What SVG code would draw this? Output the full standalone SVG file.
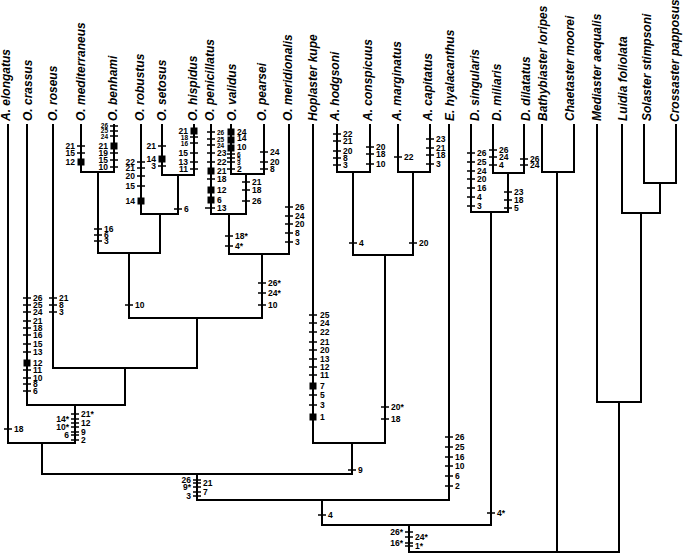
<svg xmlns="http://www.w3.org/2000/svg" width="685" height="554" viewBox="0 0 685 554">
<style>
.br{fill:none;stroke:#000;stroke-width:2;stroke-linecap:square}
.tk{fill:none;stroke:#000;stroke-width:1.5}
.sq{fill:#000}
.sp{font-family:"Liberation Sans",Arial,sans-serif;font-size:12px;font-weight:bold;font-style:italic;fill:#000}
.r,.l{font-family:"Liberation Sans",Arial,sans-serif;font-size:8.5px;font-weight:bold;fill:#000}
.l{text-anchor:end}
.s{font-size:6.5px}
</style>
<rect width="685" height="554" fill="#fff"/>
<g id="connectors">
<path class="br" d="M8 125V443 M27 125V405 M53 125V368 M81 125V172 M114 125V172 M141 125V214 M162 125V175 M194 125V175 M211 125V214 M231 125V174 M264 125V174 M289 125V254 M313 125V443 M337 125V172 M370 125V172 M398 125V172 M430 125V172 M449 125V500 M471 125V212 M493 125V173 M524 125V173 M542 125V172 M574 125V172 M597 125V402 M622 125V213 M644 125V183 M676 125V183"/>
<path class="br" d="M81 172H114 M98 172V253 M162 175H194 M178 175V214 M141 214H178 M160 214V253 M98 253H160 M129 253V318 M231 174H264 M246 174V214 M211 214H246 M229 214V254 M229 254H289 M262 254V318 M129 318H262 M197 318V368 M53 368H197 M125 368V405 M27 405H125 M75 405V443 M8 443H75 M42 443V474 M337 172H370 M353 172V255 M398 172H430 M413 172V255 M353 255H413 M385 255V443 M313 443H385 M352 443V474 M42 474H352 M197 474V500 M197 500H449 M322 500V525 M493 173H524 M508 173V212 M471 212H508 M491 212V525 M322 525H491 M409 525V552 M542 172H574 M557 172V552 M644 183H676 M660 183V213 M622 213H660 M641 213V402 M597 402H641 M619 402V552 M409 552H619"/>
</g>
<g id="internal-characters">
<path class="tk" d="M94 229h8 M94 235h8 M94 241h8 M174 209h8 M125 305h8 M242 182h8 M242 190h8 M242 201h8 M225 236h8 M225 246h8 M258 283h8 M258 293h8 M258 305h8 M71 414h8 M71 419h8 M71 423h8 M71 427h8 M71 432h8 M71 435h8 M71 440h8 M193 480h8 M193 483h8 M193 487h8 M193 492h8 M193 496h8 M348 470h8 M381 407h8 M381 419h8 M349 243h8 M409 243h8 M504 192h8 M504 200h8 M504 208h8 M487 513h8 M318 515h8 M405 532h8 M405 537h8 M405 543h8 M405 546h8"/>
<text class="r" x="104" y="232">16</text><text class="r" x="104" y="238">6</text><text class="r" x="104" y="244">3</text>
<text class="r" x="184" y="212">6</text>
<text class="r" x="135" y="308">10</text>
<text class="r" x="252" y="185">21</text><text class="r" x="252" y="193">18</text><text class="r" x="252" y="204">26</text>
<text class="r" x="235" y="239">18*</text><text class="r" x="235" y="249">4*</text>
<text class="r" x="268" y="286">26*</text><text class="r" x="268" y="296">24*</text><text class="r" x="268" y="308">10</text>
<text class="r" x="81" y="417">21*</text><text class="r" x="81" y="426">12</text><text class="r" x="81" y="435">9</text><text class="r" x="81" y="443">2</text>
<text class="l" x="69" y="422">14*</text><text class="l" x="69" y="430">10*</text><text class="l" x="69" y="438">6</text>
<text class="l" x="191" y="483">26</text><text class="l" x="191" y="490">9*</text><text class="l" x="191" y="499">3</text>
<text class="r" x="203" y="486">21</text><text class="r" x="203" y="495">7</text>
<text class="r" x="358" y="473">9</text>
<text class="r" x="391" y="410">20*</text><text class="r" x="391" y="422">18</text>
<text class="r" x="359" y="246">4</text>
<text class="r" x="419" y="246">20</text>
<text class="r" x="514" y="195">23</text><text class="r" x="514" y="203">18</text><text class="r" x="514" y="211">5</text>
<text class="r" x="497" y="516">4*</text>
<text class="r" x="328" y="518">4</text>
<text class="l" x="403" y="535">26*</text><text class="l" x="403" y="546">16*</text>
<text class="r" x="415" y="540">24*</text><text class="r" x="415" y="549">1*</text>
</g>
<g id="t-elongatus"><text class="sp" transform="translate(10,121) rotate(-90)">A. elongatus</text>
<path class="tk" d="M4 429h8"/><text class="r" x="14" y="432">18</text></g>
<g id="t-crassus"><text class="sp" transform="translate(32,121) rotate(-90)">O. crassus</text>
<path class="tk" d="M23 298h8 M23 305h8 M23 312h8 M23 321h8 M23 328h8 M23 335h8 M23 344h8 M23 352h8 M23 370h8 M23 378h8 M23 384h8 M23 391h8"/>
<rect class="sq" x="23.5" y="359.5" width="7" height="7"/>
<text class="r" x="33" y="301">26</text><text class="r" x="33" y="308">25</text><text class="r" x="33" y="315">24</text><text class="r" x="33" y="324">21</text><text class="r" x="33" y="331">18</text><text class="r" x="33" y="338">16</text><text class="r" x="33" y="347">15</text><text class="r" x="33" y="355">13</text><text class="r" x="33" y="366">12</text><text class="r" x="33" y="373">11</text><text class="r" x="33" y="381">10</text><text class="r" x="33" y="387">8</text><text class="r" x="33" y="394">6</text></g>
<g id="t-roseus"><text class="sp" transform="translate(57,121) rotate(-90)">O. roseus</text>
<path class="tk" d="M49 298h8 M49 305h8 M49 312h8"/>
<text class="r" x="59" y="301">21</text><text class="r" x="59" y="308">8</text><text class="r" x="59" y="315">3</text></g>
<g id="t-mediterraneus"><text class="sp" transform="translate(85,121) rotate(-90)">O. mediterraneus</text>
<path class="tk" d="M77 146h8 M77 153h8"/><rect class="sq" x="77.5" y="158.5" width="7" height="7"/>
<text class="l" x="75" y="149">21</text><text class="l" x="75" y="156">15</text><text class="l" x="75" y="165">12</text></g>
<g id="t-benhami"><text class="sp" transform="translate(117,121) rotate(-90)">O. benhami</text>
<path class="tk" d="M110 126h8 M110 131h8 M110 136h8 M110 153h8 M110 160h8 M110 167h8"/><rect class="sq" x="110.5" y="142.5" width="7" height="7"/>
<text class="l s" x="108" y="128">26</text><text class="l s" x="108" y="133">25</text><text class="l s" x="108" y="138.5">24</text><text class="l" x="108" y="149">21</text><text class="l" x="108" y="156">19</text><text class="l" x="108" y="163">15</text><text class="l" x="108" y="170">10</text></g>
<g id="t-robustus"><text class="sp" transform="translate(144,121) rotate(-90)">O. robustus</text>
<path class="tk" d="M137 162h8 M137 168h8 M137 176h8 M137 186h8"/><rect class="sq" x="137.5" y="197.5" width="7" height="7"/>
<text class="l" x="135" y="165">22</text><text class="l" x="135" y="171">21</text><text class="l" x="135" y="179">20</text><text class="l" x="135" y="189">15</text><text class="l" x="135" y="204">14</text></g>
<g id="t-setosus"><text class="sp" transform="translate(166,121) rotate(-90)">O. setosus</text>
<path class="tk" d="M158 146h8 M158 166h8"/><rect class="sq" x="158.5" y="155.5" width="7" height="7"/>
<text class="l" x="156" y="149">21</text><text class="l" x="156" y="162">14</text><text class="l" x="156" y="169">3</text></g>
<g id="t-hispidus"><text class="sp" transform="translate(197,121) rotate(-90)">O. hispidus</text>
<path class="tk" d="M190 137h8 M190 143h8 M190 153h8 M190 162h8 M190 169h8"/><rect class="sq" x="190.5" y="127.5" width="7" height="7"/>
<text class="l" x="188" y="134">21</text><text class="l s" x="188" y="139.5">18</text><text class="l s" x="188" y="145.5">16</text><text class="l" x="188" y="156">15</text><text class="l" x="188" y="165">13</text><text class="l" x="188" y="172">11</text></g>
<g id="t-penicillatus"><text class="sp" transform="translate(214,121) rotate(-90)">O. penicillatus</text>
<path class="tk" d="M207 132h8 M207 139h8 M207 145h8 M207 153h8 M207 162h8 M207 179h8 M205 208h10"/>
<rect class="sq" x="207.5" y="167.5" width="7" height="7"/><rect class="sq" x="207.5" y="186.5" width="7" height="7"/><rect class="sq" x="207.5" y="196.5" width="7" height="7"/>
<text class="r s" x="217" y="134.5">26</text><text class="r s" x="217" y="141.5">25</text><text class="r s" x="217" y="147.5">24</text><text class="r" x="217" y="156">23</text><text class="r" x="217" y="165">22</text><text class="r" x="217" y="174">21</text><text class="r" x="217" y="182">18</text><text class="r" x="217" y="193">12</text><text class="r" x="217" y="203">6</text><text class="r" x="217" y="211">13</text></g>
<g id="t-validus"><text class="sp" transform="translate(236,121) rotate(-90)">O. validus</text>
<path class="tk" d="M227 154h8 M227 158h8 M227 162h8 M227 169h8"/>
<rect class="sq" x="227.5" y="128.5" width="7" height="7"/><rect class="sq" x="227.5" y="136.5" width="7" height="7"/><rect class="sq" x="227.5" y="144.5" width="7" height="7"/>
<text class="r" x="237" y="135">24</text><text class="r" x="237" y="141">14</text><text class="r" x="237" y="150">10</text><text class="r s" x="237" y="156.5">6</text><text class="r s" x="237" y="160.5">5</text><text class="r s" x="237" y="164.5">3</text><text class="r" x="237" y="172">2</text></g>
<g id="t-pearsei"><text class="sp" transform="translate(266,121) rotate(-90)">O. pearsei</text>
<path class="tk" d="M260 152h8 M260 162h8 M260 169h8"/>
<text class="r" x="270" y="155">24</text><text class="r" x="270" y="165">20</text><text class="r" x="270" y="172">8</text></g>
<g id="t-meridionalis"><text class="sp" transform="translate(292,121) rotate(-90)">O. meridionalis</text>
<path class="tk" d="M285 207h8 M285 216h8 M285 224h8 M285 233h8 M285 242h8"/>
<text class="r" x="295" y="210">26</text><text class="r" x="295" y="219">24</text><text class="r" x="295" y="227">20</text><text class="r" x="295" y="236">8</text><text class="r" x="295" y="245">3</text></g>
<g id="t-hoplaster"><text class="sp" transform="translate(317,121) rotate(-90)">Hoplaster kupe</text>
<path class="tk" d="M309 315h8 M309 323h8 M309 332h8 M309 342h8 M309 350h8 M309 359h8 M309 367h8 M309 375h8 M309 395h8 M309 405h8"/>
<rect class="sq" x="309.5" y="382.5" width="7" height="7"/><rect class="sq" x="309.5" y="413.5" width="7" height="7"/>
<text class="r" x="320" y="318">25</text><text class="r" x="320" y="326">24</text><text class="r" x="320" y="335">22</text><text class="r" x="320" y="345">21</text><text class="r" x="320" y="353">20</text><text class="r" x="320" y="362">13</text><text class="r" x="320" y="370">12</text><text class="r" x="320" y="378">11</text><text class="r" x="320" y="389">7</text><text class="r" x="320" y="398">5</text><text class="r" x="320" y="408">3</text><text class="r" x="320" y="420">1</text></g>
<g id="t-hodgsoni"><text class="sp" transform="translate(339,121) rotate(-90)">A. hodgsoni</text>
<path class="tk" d="M333 134h8 M333 141h8 M333 151h8 M333 158h8 M333 165h8"/>
<text class="r" x="343" y="137">22</text><text class="r" x="343" y="144">21</text><text class="r" x="343" y="154">20</text><text class="r" x="343" y="161">8</text><text class="r" x="343" y="168">3</text></g>
<g id="t-conspicuus"><text class="sp" transform="translate(372,121) rotate(-90)">A. conspicuus</text>
<path class="tk" d="M366 147h8 M366 154h8 M366 164h8"/>
<text class="r" x="376" y="150">20</text><text class="r" x="376" y="157">18</text><text class="r" x="376" y="167">10</text></g>
<g id="t-marginatus"><text class="sp" transform="translate(401,121) rotate(-90)">A. marginatus</text>
<path class="tk" d="M394 157h8"/><text class="r" x="404" y="160">22</text></g>
<g id="t-capitatus"><text class="sp" transform="translate(432,121) rotate(-90)">A. capitatus</text>
<path class="tk" d="M426 139h8 M426 148h8 M426 155h8 M426 164h8"/>
<text class="r" x="436" y="142">23</text><text class="r" x="436" y="151">21</text><text class="r" x="436" y="158">18</text><text class="r" x="436" y="167">3</text></g>
<g id="t-hyalacanthus"><text class="sp" transform="translate(454,121) rotate(-90)">E. hyalacanthus</text>
<path class="tk" d="M445 437h8 M445 447h8 M445 457h8 M445 466h8 M445 476h8 M445 486h8"/>
<text class="r" x="455" y="440">26</text><text class="r" x="455" y="450">25</text><text class="r" x="455" y="460">16</text><text class="r" x="455" y="469">10</text><text class="r" x="455" y="479">6</text><text class="r" x="455" y="489">2</text></g>
<g id="t-singularis"><text class="sp" transform="translate(479,121) rotate(-90)">D. singularis</text>
<path class="tk" d="M467 153h8 M467 162h8 M467 171h8 M467 179h8 M467 188h8 M467 197h8 M467 206h8"/>
<text class="r" x="477" y="156">26</text><text class="r" x="477" y="165">25</text><text class="r" x="477" y="174">24</text><text class="r" x="477" y="182">20</text><text class="r" x="477" y="191">16</text><text class="r" x="477" y="200">4</text><text class="r" x="477" y="209">3</text></g>
<g id="t-miliaris"><text class="sp" transform="translate(501,121) rotate(-90)">D. miliaris</text>
<path class="tk" d="M489 150h8 M489 157h8 M489 165h8"/>
<text class="r" x="499" y="153">26</text><text class="r" x="499" y="160">24</text><text class="r" x="499" y="168">4</text></g>
<g id="t-dilatatus"><text class="sp" transform="translate(530,121) rotate(-90)">D. dilatatus</text>
<path class="tk" d="M520 159h8 M520 165h8"/>
<text class="r" x="530" y="162">26</text><text class="r" x="530" y="168">24</text></g>
<g id="t-bathybiaster"><text class="sp" transform="translate(547,121) rotate(-90)">Bathybiaster loripes</text></g>
<g id="t-chaetaster"><text class="sp" transform="translate(574,121) rotate(-90)">Chaetaster moorei</text></g>
<g id="t-mediaster"><text class="sp" transform="translate(601,121) rotate(-90)">Mediaster aequalis</text></g>
<g id="t-luidia"><text class="sp" transform="translate(627,121) rotate(-90)">Luidia foliolata</text></g>
<g id="t-solaster"><text class="sp" transform="translate(651,121) rotate(-90)">Solaster stimpsoni</text></g>
<g id="t-crossaster"><text class="sp" transform="translate(679,122) rotate(-90)">Crossaster papposus</text></g>
</svg>
